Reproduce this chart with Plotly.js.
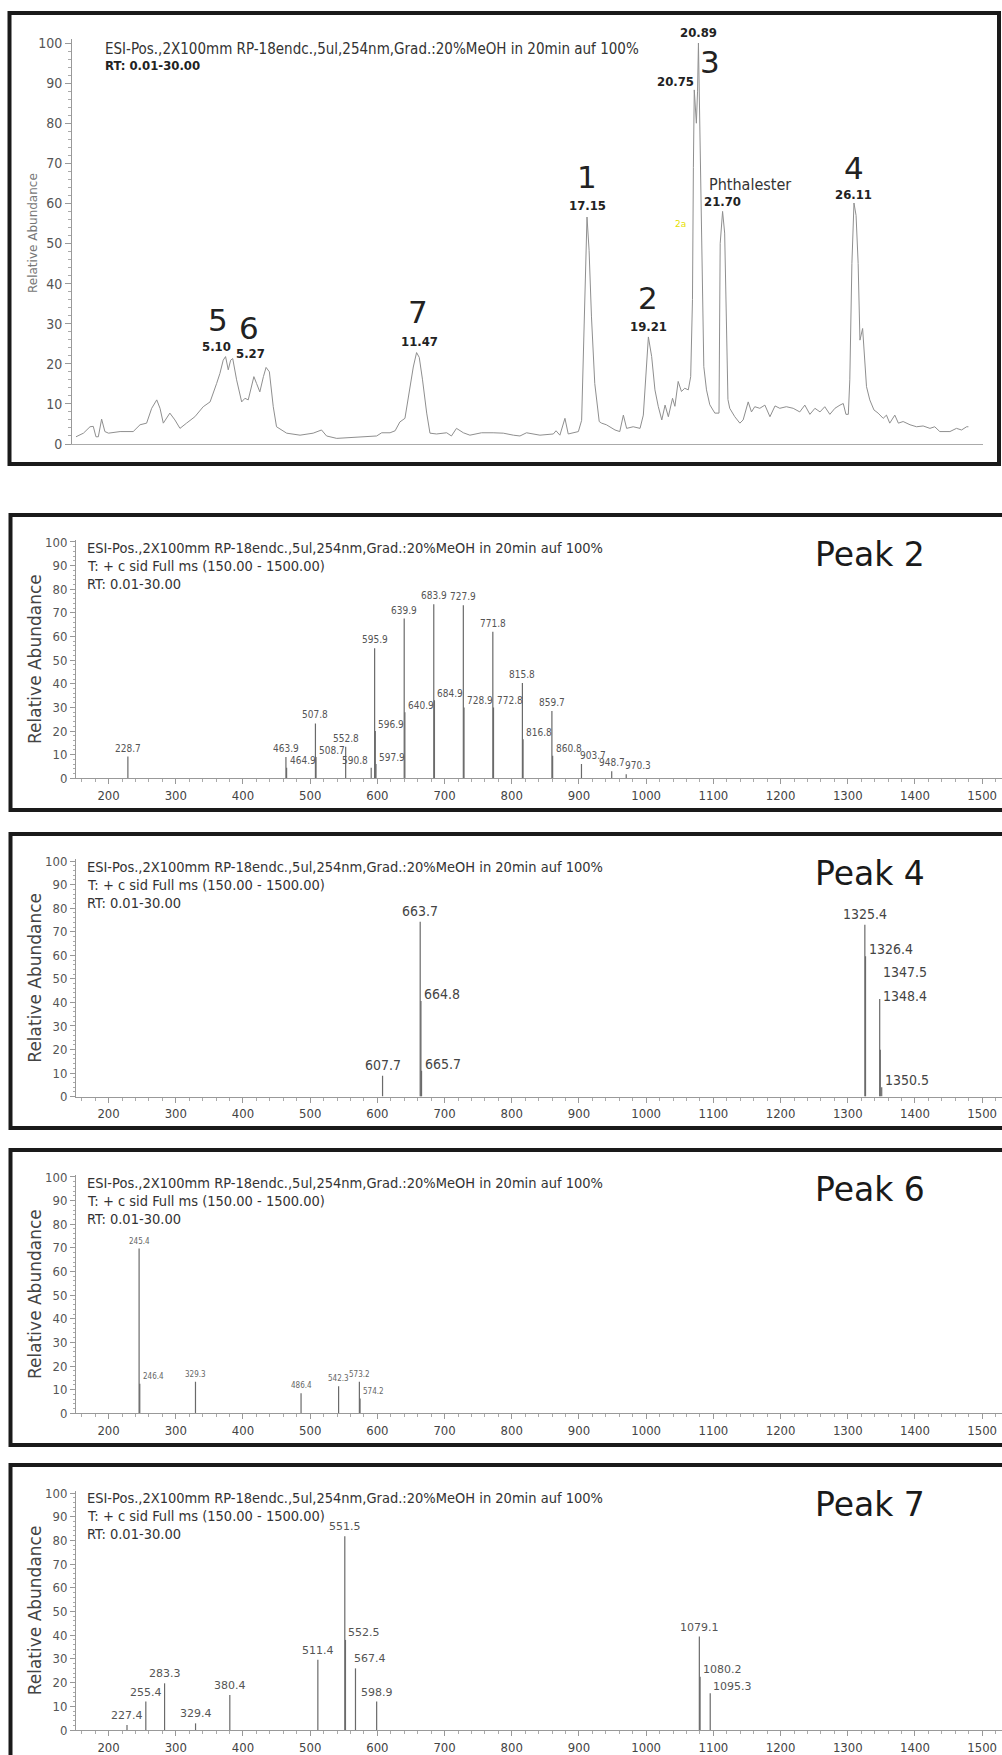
<!DOCTYPE html>
<html><head><meta charset="utf-8">
<script src="https://cdn.plot.ly/plotly-3.0.1.min.js"></script>
<style>html,body{margin:0;padding:0;background:#fff;} #chart{width:1002px;height:1755px;}</style>
</head><body><div id="chart"></div>
<script>
// ---------------- DATA ----------------
// Chromatogram (RT in min, relative abundance)
const rtTime = [0.00,0.25,0.47,0.58,0.67,0.75,0.86,0.97,1.09,1.48,1.92,2.15,2.37,2.54,2.71,2.82,2.93,3.15,3.32,3.49,3.71,3.99,4.27,4.50,4.72,4.83,4.94,5.02,5.11,5.19,5.26,5.39,5.56,5.67,5.78,5.90,5.97,6.06,6.17,6.29,6.38,6.49,6.62,6.73,6.90,7.07,7.52,7.96,8.24,8.41,8.75,9.20,9.75,10.09,10.26,10.54,10.71,10.87,11.04,11.19,11.32,11.43,11.52,11.63,11.77,11.88,12.10,12.44,12.60,12.77,13.00,13.22,13.61,14.00,14.34,14.68,14.90,15.12,15.57,16.02,16.11,16.24,16.41,16.52,16.86,16.97,17.05,17.11,17.15,17.22,17.30,17.41,17.47,17.56,17.64,17.80,18.09,18.25,18.37,18.48,18.70,18.93,19.04,19.15,19.21,19.32,19.43,19.54,19.66,19.77,19.88,20.02,20.10,20.21,20.32,20.43,20.55,20.63,20.69,20.72,20.75,20.82,20.86,20.89,20.93,21.00,21.07,21.16,21.27,21.44,21.58,21.62,21.70,21.77,21.83,21.88,21.94,22.11,22.28,22.39,22.56,22.67,22.78,22.95,23.12,23.29,23.46,23.62,23.84,24.07,24.29,24.46,24.63,24.80,24.97,25.13,25.30,25.47,25.64,25.75,25.84,25.92,25.97,26.04,26.11,26.18,26.25,26.31,26.40,26.48,26.53,26.64,26.78,26.92,27.09,27.20,27.31,27.48,27.60,27.76,27.99,28.21,28.43,28.66,28.82,28.99,29.33,29.55,29.72,29.89,29.95];
const rtAbund = [1.8,2.7,4.3,4.4,1.8,1.8,6.2,3.1,2.7,3.1,3.1,4.8,5.2,8.9,11.0,8.9,5.2,7.7,6.0,3.9,5.2,6.8,9.3,10.5,15.1,17.6,20.9,21.8,18.5,20.9,21.3,16.0,10.5,11.4,11.0,15.1,16.8,15.1,13.0,16.8,19.1,18.0,9.3,4.3,3.5,2.7,2.2,2.7,3.5,2.0,1.4,1.6,2.0,2.0,2.8,2.8,3.3,5.5,6.4,13.4,19.2,22.8,21.6,16.0,7.7,2.7,2.5,2.8,2.0,3.9,2.8,2.2,2.8,2.8,2.7,2.2,2.0,2.8,2.2,2.5,3.3,2.2,6.4,2.5,3.1,5.9,30.6,47.8,56.6,48.3,31.7,15.1,11.8,5.6,5.2,4.8,3.5,3.1,7.2,3.9,4.3,3.9,7.2,19.3,26.7,21.8,13.5,9.4,6.0,9.7,6.8,11.4,9.4,15.6,13.1,13.9,13.5,16.8,36.0,69.0,88.3,80.0,88.0,100,80.0,52.6,19.3,13.5,9.8,7.7,7.7,50.0,58.0,52.6,27.7,11.1,8.9,6.8,5.2,6.0,10.5,8.0,9.3,8.9,9.7,6.8,9.5,8.9,9.3,8.9,8.0,9.7,7.4,8.9,8.0,9.3,7.4,8.9,9.7,10.1,7.4,7.4,16.0,45.0,60.1,57.0,45.0,25.9,28.8,19.3,14.3,11.0,8.5,7.7,6.4,7.2,5.2,7.2,5.2,5.6,4.8,4.3,4.5,3.9,4.3,3.1,3.1,3.9,3.5,4.3,4.3];

const peakRT     = [5.10, 5.27, 11.47, 17.15, 19.21, 20.75, 20.89, 21.70, 26.11];
const peakTop    = [21.8, 21.3, 22.8, 56.6, 26.7, 88.3, 100, 58.0, 60.1];
const peakRTText = ['5.10','5.27','11.47','17.15','19.21','20.75','20.89','21.70','26.11'];
const peakName   = ['5','6','7','1','2','','3','Phthalester','4'];

// Mass spectra (m/z, relative abundance)
const p2Mz  = [228.7,463.9,464.9,507.8,508.7,552.8,590.8,595.9,596.9,597.9,639.9,640.9,683.9,684.9,727.9,728.9,771.8,772.8,815.8,816.8,859.7,860.8,903.7,948.7,970.3];
const p2Int = [9.2,9.0,4.5,23.2,9.0,13.4,4.5,55.0,20.0,6.0,67.6,28.0,73.7,33.0,73.2,30.0,62.0,30.0,40.3,16.5,28.5,9.5,6.0,3.0,1.7];

const p4Mz  = [607.7,663.7,664.8,665.7,1325.4,1326.4,1347.5,1348.4,1350.5];
const p4Int = [8.9,74.2,40.6,11.0,73.0,59.6,41.4,19.9,4.0];

const p6Mz  = [245.4,246.4,329.3,486.4,542.3,573.2,574.2];
const p6Int = [69.7,12.5,13.4,8.5,11.5,13.4,6.3];

const p7Mz  = [227.4,255.4,283.3,329.4,380.4,511.4,551.5,552.5,567.4,598.9,1079.1,1080.2,1095.3];
const p7Int = [2.1,12.0,19.7,2.8,14.8,29.6,81.7,38.0,26.0,12.0,39.4,22.5,15.5];

const mzTicks = [200,300,400,500,600,700,800,900,1000,1100,1200,1300,1400,1500];
const abTicks = [0,10,20,30,40,50,60,70,80,90,100];

const headerLine1 = 'ESI-Pos.,2X100mm RP-18endc.,5ul,254nm,Grad.:20%MeOH in 20min auf 100%';
const headerLine2 = 'T: + c sid Full ms (150.00 - 1500.00)';
const headerLine3 = 'RT: 0.01-30.00';

// ---------------- LAYOUT HELPERS (styling only) ----------------
const W = 1002, H = 1755;
const px = v => v / W;
const py = v => 1 - v / H;
const COND = '"DejaVu Sans Condensed", "Liberation Sans Narrow", "DejaVu Sans", sans-serif';
const SANS = '"DejaVu Sans", "Liberation Sans", sans-serif';

// label placement styles for stick labels
const p2Pos = ['c','c','r','c','r','c','l','c','r','r','c','r','c','r','c','r','c','r','c','r','c','r','ar','c','ar'];
const p4Pos = ['c','c','r','r','c','r','r','r','r'];
const p4Extra = [0,0,0,0,0,0,20,47,0];
const p6Pos = ['c','r','c','c','c','c','r'];
const p7Pos = ['c','c','c','c','c','c','c','r','ar','c','c','r','r'];

// chromatogram label offsets (px)
const rtLblShift = [[-11,10],[17,5],[2,11],[0,12],[0,10],[-19,8],[0,11],[0,10],[0,9]];
const nameShift  = [[-10,37],[16,31],[0,41],[0,40],[0,39],[0,0],[12,-19],[-16,27],[0,35]];

const traces = [];
const annotations = [];
const shapes = [];

// chromatogram trace
traces.push({type:'scatter', mode:'lines', x:rtTime, y:rtAbund, xaxis:'x', yaxis:'y',
  line:{color:'#8f8f8f', width:1}, hoverinfo:'skip', showlegend:false});

peakRT.forEach((t,i)=>{
  annotations.push({xref:'x', yref:'y', x:t, y:peakTop[i], text:peakRTText[i], showarrow:false,
    xanchor:'center', yanchor:'middle', xshift:rtLblShift[i][0], yshift:rtLblShift[i][1],
    font:{family:COND, size:13, color:'#222', weight:'bold'}});
  if (peakName[i]) {
    const big = peakName[i].length === 1;
    annotations.push({xref:'x', yref:'y', x:t, y:peakTop[i], text:peakName[i], showarrow:false,
      xanchor: big ? 'center' : 'left', yanchor:'middle', xshift:nameShift[i][0], yshift:nameShift[i][1],
      font: big ? {family:SANS, size:31, color:'#222'} : {family:COND, size:16, color:'#333'}});
  }
});
annotations.push({xref:'x', yref:'y', x:20.75, y:88.3, text:'2a', showarrow:false, xanchor:'center', yanchor:'middle',
  xshift:-14, yshift:-134, font:{family:SANS, size:9, color:'#e6e000'}});

// chromatogram header + y title
annotations.push({xref:'paper', yref:'paper', x:px(103), y:py(49), text:headerLine1, showarrow:false,
  xanchor:'left', yanchor:'middle', font:{family:COND, size:15, color:'#333'}});
annotations.push({xref:'paper', yref:'paper', x:px(103), y:py(66), text:headerLine3, showarrow:false,
  xanchor:'left', yanchor:'middle', font:{family:COND, size:13, color:'#222', weight:'bold'}});
annotations.push({xref:'paper', yref:'paper', x:px(33), y:py(233), text:'Relative Abundance', showarrow:false,
  textangle:-90, xanchor:'center', yanchor:'middle', font:{family:SANS, size:12, color:'#777'}});

shapes.push({type:'rect', xref:'paper', yref:'paper', x0:px(9.5), x1:px(999), y0:py(464), y1:py(13),
  line:{color:'#1a1a1a', width:4}});

// spectra panels
const panels = [
  {mz:p2Mz, it:p2Int, pos:p2Pos, extra:null, name:'Peak 2', top:515, bot:810, y0:778.3, ppu:2.363, lf:{family:COND, size:10, color:'#555'}},
  {mz:p4Mz, it:p4Int, pos:p4Pos, extra:p4Extra, name:'Peak 4', top:834, bot:1128, y0:1096.6, ppu:2.355, lf:{family:COND, size:14, color:'#444'}},
  {mz:p6Mz, it:p6Int, pos:p6Pos, extra:null, name:'Peak 6', top:1150, bot:1445, y0:1413.3, ppu:2.363, lf:{family:COND, size:8, color:'#666'}},
  {mz:p7Mz, it:p7Int, pos:p7Pos, extra:null, name:'Peak 7', top:1465, bot:1775, y0:1730, ppu:2.37, lf:{family:SANS, size:11, color:'#555'}}
];

const layout = {
  width:W, height:H, margin:{l:0,r:0,t:0,b:0}, paper_bgcolor:'#fff', plot_bgcolor:'rgba(0,0,0,0)',
  showlegend:false,
  xaxis:{domain:[px(72), px(983)], range:[-0.134, 30.44], anchor:'y', showline:true, linecolor:'#aaa', linewidth:1,
    ticks:'', showticklabels:false, showgrid:false, zeroline:false},
  yaxis:{domain:[py(444), py(39)], range:[0,101], anchor:'x', showline:true, linecolor:'#999', linewidth:1,
    tickmode:'array', tickvals:abTicks, ticks:'outside', ticklen:6, tickcolor:'#999',
    minor:{ticks:'outside', ticklen:3, dtick:2, tick0:0, tickcolor:'#aaa'},
    showgrid:false, zeroline:false, tickfont:{family:COND, size:14, color:'#555'}}
};

panels.forEach((p,k)=>{
  const n = k + 2;
  const xa = 'x' + n, ya = 'y' + n;
  const yTopPx = p.y0 - 101 * p.ppu;
  layout['xaxis'+n] = {domain:[px(76), 1], range:[151.5, 1529.5], anchor:ya, showline:true, linecolor:'#999', linewidth:1,
    tickmode:'array', tickvals:mzTicks, ticks:'outside', ticklen:5, tickcolor:'#999',
    minor:{ticks:'outside', ticklen:3, dtick:20, tick0:0, tickcolor:'#aaa'},
    showgrid:false, zeroline:false, tickfont:{family:COND, size:13, color:'#444'}};
  layout['yaxis'+n] = {domain:[py(p.y0), py(yTopPx)], range:[0,101], anchor:xa, showline:true, linecolor:'#999', linewidth:1,
    tickmode:'array', tickvals:abTicks, ticks:'outside', ticklen:5, tickcolor:'#999',
    minor:{ticks:'outside', ticklen:2, dtick:2, tick0:0, tickcolor:'#aaa'},
    showgrid:false, zeroline:false, tickfont:{family:COND, size:13, color:'#555'}};

  const sx = [], sy = [];
  p.mz.forEach((m,i)=>{ sx.push(m, m, null); sy.push(0, p.it[i], null); });
  traces.push({type:'scatter', mode:'lines', x:sx, y:sy, xaxis:xa, yaxis:ya, connectgaps:false,
    line:{color:'#6a6a6a', width:1.2}, hoverinfo:'skip', showlegend:false});

  p.mz.forEach((m,i)=>{
    const mode = p.pos[i];
    const extra = p.extra ? p.extra[i] : 0;
    const a = {xref:xa, yref:ya, x:m, y:p.it[i], text:m.toFixed(1), showarrow:false, font:p.lf};
    if (mode === 'c') { a.xanchor='center'; a.yanchor='bottom'; a.yshift=1 + extra; }
    else if (mode === 'r') { a.xanchor='left'; a.xshift=1; a.yanchor='middle'; a.yshift=7 + extra; }
    else if (mode === 'l') { a.xanchor='right'; a.xshift=-1; a.yanchor='middle'; a.yshift=7 + extra; }
    else { a.xanchor='left'; a.xshift=-3; a.yanchor='bottom'; a.yshift=1 + extra; }
    annotations.push(a);
  });

  const t = p.top;
  annotations.push({xref:'paper', yref:'paper', x:px(85), y:py(t+33), text:headerLine1, showarrow:false,
    xanchor:'left', yanchor:'middle', font:{family:COND, size:14.5, color:'#333'}});
  annotations.push({xref:'paper', yref:'paper', x:px(85), y:py(t+51), text:headerLine2, showarrow:false,
    xanchor:'left', yanchor:'middle', font:{family:COND, size:14.5, color:'#333'}});
  annotations.push({xref:'paper', yref:'paper', x:px(85), y:py(t+69), text:headerLine3, showarrow:false,
    xanchor:'left', yanchor:'middle', font:{family:COND, size:14.5, color:'#333'}});
  annotations.push({xref:'paper', yref:'paper', x:px(870), y:py(t+39), text:p.name, showarrow:false,
    xanchor:'center', yanchor:'middle', font:{family:SANS, size:33, color:'#1a1a1a'}});
  annotations.push({xref:'paper', yref:'paper', x:px(35), y:py((p.y0 + yTopPx)/2), text:'Relative Abundance', showarrow:false,
    textangle:-90, xanchor:'center', yanchor:'middle', font:{family:SANS, size:17, color:'#444'}});

  shapes.push({type:'rect', xref:'paper', yref:'paper', x0:px(10.5), x1:1.05, y0:py(p.bot), y1:py(t),
    line:{color:'#1a1a1a', width:4}});
});

layout.annotations = annotations;
layout.shapes = shapes;

Plotly.newPlot('chart', traces, layout, {staticPlot:true, displayModeBar:false});
</script>
</body></html>
